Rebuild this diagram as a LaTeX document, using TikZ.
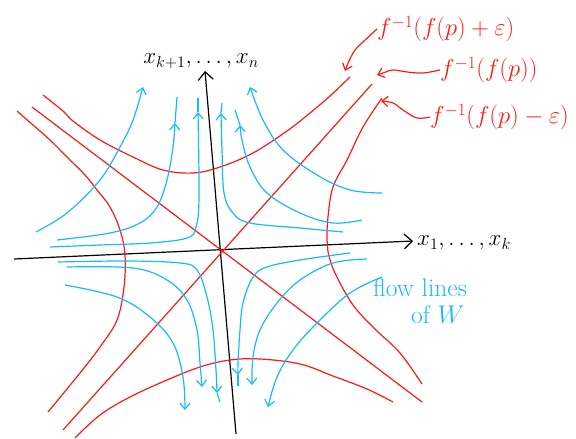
\documentclass[tikz,border=0pt]{standalone}
\usepackage{fix-cm}
\usetikzlibrary{arrows.meta}
\definecolor{fred}{RGB}{255,25,25}
\definecolor{fblue}{RGB}{25,185,250}
\begin{document}
\begin{tikzpicture}[x=1pt,y=-1pt,
  redline/.style={draw=fred,line width=1.2pt},
  blueline/.style={draw=fblue,line width=1.2pt},
  axisline/.style={draw=black,line width=1.2pt},
  smallbarb/.style={-{Straight Barb[length=6pt,width=10pt]}},
  bigbarb/.style={-{Straight Barb[length=8pt,width=15pt]}},
  curvy/.style={smooth,tension=0.6},
  redlabel/.style={text=fred,font=\fontsize{24.5}{24.5}\selectfont,inner sep=0pt},
  bluelabel/.style={text=fblue,font=\fontsize{25.5}{25.5}\selectfont,inner sep=0pt},
  axislabel/.style={text=black,font=\fontsize{23}{23}\selectfont,inner sep=0pt}]
\useasboundingbox (0,0) rectangle (576,439);
% axes
\coordinate (xs) at (14,259);
\coordinate (xe) at (413,241);
\coordinate (ys) at (236,434);
\coordinate (ye) at (205,71);
\draw[axisline,bigbarb] (xs) -- (xe);
\draw[axisline,bigbarb] (ys) -- (ye);
\node[axislabel,anchor=west] (xlab) at (417,243) {$x_1,\ldots,x_k$};
\node[axislabel] (ylab) at (201,61) {$x_{k+1},\ldots,x_n$};
% red level sets
\draw[redline] (32,107) -- (422,402);
\draw[redline] (63,430) -- (372,84);
\draw[redline] plot[curvy] coordinates {(43,95) (63,111) (73,121) (100,140) (133,157) (163,170) (193,173) (220,167) (253,153) (287,131) (310,113) (330,96) (350,77)};
\draw[redline] plot[curvy] coordinates {(75,438) (100,415) (130,397) (167,380) (200,367) (230,360) (260,359) (300,364) (333,376) (367,389) (393,402)};
\draw[redline] plot[curvy] coordinates {(17,111) (33,125) (50,140) (67,157) (85,175) (97,190) (110,207) (120,230) (125,255) (124,287) (117,320) (100,347) (80,373) (48,412)};
\draw[redline] plot[curvy] coordinates {(382,98) (363,127) (347,160) (333,187) (328,217) (327,240) (328,252) (335,273) (353,305) (375,329) (400,353) (422,384)};
% blue flow lines, upper half
\draw[blueline,smallbarb] plot[curvy] coordinates {(36,232) (67,213) (100,180) (120,147) (133,120) (143,87)};
\draw[blueline,smallbarb] plot[curvy] coordinates {(57,240) (110,233) (140,223) (157,207) (167,180) (173,147) (175,123)};
\draw[blueline] (175,123) -- (177,97);
\draw[blueline,smallbarb] plot[curvy] coordinates {(50,247) (100,245) (150,243) (187,238) (196,227) (199,197) (198,112)};
\draw[blueline] (198,112) -- (198,98);
\draw[blueline,smallbarb] plot[curvy] coordinates {(343,232) (300,228) (250,223) (233,213) (224,193) (222,150) (221,113)};
\draw[blueline] (221,113) -- (222,103);
\draw[blueline,smallbarb] plot[curvy] coordinates {(362,220) (333,223) (300,213) (267,193) (250,167) (242,140) (240,125)};
\draw[blueline] (240,125) -- (235,110);
\draw[blueline,smallbarb] plot[curvy] coordinates {(382,193) (350,190) (317,175) (283,150) (263,120) (250,87)};
% blue flow lines, lower half
\draw[blueline,smallbarb] plot[curvy] coordinates {(58,262) (127,261) (180,263) (197,270) (207,297) (213,330) (216,370) (217,393)};
\draw[blueline] (217,393) -- (220,402);
\draw[blueline,smallbarb] plot[curvy] coordinates {(67,267) (133,268) (167,280) (187,300) (197,330) (200,363) (202,387)};
\draw[blueline,smallbarb] plot[curvy] coordinates {(65,285) (117,297) (150,317) (173,343) (183,377) (185,410)};
\draw[blueline,smallbarb] plot[curvy] coordinates {(350,253) (300,260) (267,267) (253,277) (243,303) (240,330) (238,363) (238,375)};
\draw[blueline] (238,375) -- (238,386);
\draw[blueline,smallbarb] plot[curvy] coordinates {(367,259) (333,263) (300,280) (277,303) (260,330) (253,357) (252,385)};
\draw[blueline,smallbarb] plot[curvy] coordinates {(382,277) (350,293) (317,323) (293,350) (277,377) (268,407)};
% labels
\node[redlabel,anchor=west] (lplus) at (377,29) {$f^{-1}(f(p)+\varepsilon)$};
\node[redlabel,anchor=west] (lzero) at (440,70) {$f^{-1}(f(p))$};
\node[redlabel,anchor=west] (lminus) at (430,117) {$f^{-1}(f(p)-\varepsilon)$};
\coordinate (tplus) at (345,71);
\coordinate (tzero) at (377,75);
\coordinate (tminus) at (381,101);
\draw[redline,smallbarb] plot[curvy] coordinates {(lplus.west) (363,42) (355,50) (349,61) (tplus)};
\draw[redline,smallbarb] plot[curvy] coordinates {(lzero.west) (423,73) (407,72) (393,70) (383,73) (tzero)};
\draw[redline,smallbarb] plot[curvy] coordinates {(lminus.west) (417,118) (403,110) (393,103) (tminus)};
\node[bluelabel,anchor=base west] (flowa) at (373,296) {flow lines};
\node[bluelabel,anchor=base west] (flowb) at (411,323) {of $W$};
\end{tikzpicture}
\end{document}
